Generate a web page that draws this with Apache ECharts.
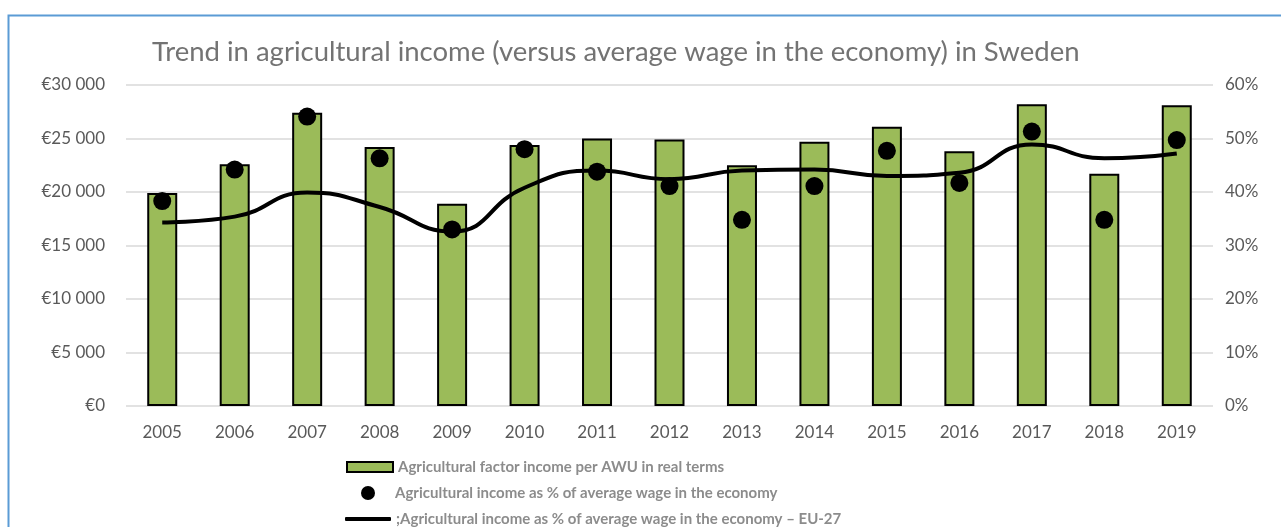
<!DOCTYPE html>
<html>
<head>
<meta charset="utf-8">
<script src="https://cdn.jsdelivr.net/npm/echarts@6/dist/echarts.min.js"></script>
<style>html,body{margin:0;padding:0;background:#fff;}#c{width:1281px;height:527px;}</style>
</head>
<body>
<div id="c"></div>
<script>
const years = ['2005','2006','2007','2008','2009','2010','2011','2012','2013','2014','2015','2016','2017','2018','2019'];
const incomePerAWU = [19900, 22600, 27400, 24200, 18900, 24400, 25000, 24900, 22500, 24700, 26100, 23800, 28200, 21700, 28100];
const pctOfWage = [38.3, 44.2, 54.1, 46.3, 33.0, 48.0, 43.8, 41.1, 34.8, 41.1, 47.7, 41.7, 51.3, 34.8, 49.7];
const pctOfWageEU27 = [34.3, 35.4, 39.9, 37.2, 32.6, 40.8, 44.0, 42.4, 44.0, 44.2, 43.0, 43.6, 48.9, 46.3, 47.2];
const seriesNames = [
  'Agricultural factor income per AWU in real terms',
  'Agricultural income as % of average wage in the economy',
  ';Agricultural income as % of average wage in the economy \u2013 EU-27'
];
const titleText = 'Trend in agricultural income (versus average wage in the economy) in Sweden';

const chart = echarts.init(document.getElementById('c'));
const FONT = 'Lato';
const legendText = { fontFamily: FONT, fontSize: 15, fontWeight: 'bold', color: '#8c8c8c', lineHeight: 18 };
chart.setOption({
  animation: false,
  backgroundColor: '#fff',
  textStyle: { fontFamily: FONT },
  title: {
    text: titleText,
    left: 147, top: 33,
    textStyle: { fontFamily: FONT, fontSize: 27.5, fontWeight: 'normal', color: '#737373' }
  },
  graphic: [{
    type: 'rect', left: 6, top: 13, silent: true,
    shape: { width: 1400, height: 700 },
    style: { fill: 'none', stroke: '#5B9BD5', lineWidth: 2 }
  }],
  grid: { left: 126, right: 68, top: 85, bottom: 121 },
  legend: [{
    left: 346, top: 458, padding: 0, itemWidth: 46, itemHeight: 10,
    textStyle: legendText,
    data: [{ name: seriesNames[0], icon: 'rect', itemStyle: { color: '#9BBB59', borderColor: '#000', borderWidth: 2 } }]
  }, {
    left: 361, top: 484, padding: 0, itemWidth: 14, itemHeight: 14,
    textStyle: Object.assign({}, legendText, { padding: [0, 0, 0, 15] }),
    data: [{ name: seriesNames[1], icon: 'circle', itemStyle: { color: '#000', opacity: 1 } }]
  }, {
    left: 345, top: 510, padding: 0, itemWidth: 46, itemHeight: 4,
    textStyle: legendText,
    data: [{ name: seriesNames[2], icon: 'roundRect', itemStyle: { color: '#000' } }]
  }],
  xAxis: {
    type: 'category', data: years,
    axisLine: { show: false }, axisTick: { show: false },
    axisLabel: { fontFamily: FONT, fontSize: 17, color: '#595959', margin: 18 }
  },
  yAxis: [{
    type: 'value', min: 0, max: 30000, interval: 5000,
    axisLine: { show: false }, axisTick: { show: false },
    splitLine: { lineStyle: { color: '#d9d9d9', width: 1.5 } },
    axisLabel: {
      fontFamily: FONT, fontSize: 17, color: '#595959', margin: 21,
      formatter: v => '\u20ac' + (v >= 1000 ? Math.floor(v/1000) + ' ' + String(v%1000).padStart(3,'0') : v)
    }
  }, {
    type: 'value', min: 0, max: 60, interval: 10,
    axisLine: { show: false }, axisTick: { show: false }, splitLine: { show: false },
    axisLabel: { fontFamily: FONT, fontSize: 17, color: '#595959', margin: 12, formatter: '{value}%' }
  }],
  series: [{
    name: seriesNames[0], type: 'bar', data: incomePerAWU, barWidth: 30,
    itemStyle: { color: '#9BBB59', borderColor: '#000', borderWidth: 2 }, z: 2
  }, {
    name: seriesNames[2], type: 'line', yAxisIndex: 1, data: pctOfWageEU27,
    smooth: 0.5, symbol: 'none', lineStyle: { color: '#000', width: 4 }, itemStyle: { color: '#000' }, z: 3
  }, {
    name: seriesNames[1], type: 'scatter', yAxisIndex: 1, data: pctOfWage,
    symbol: 'circle', symbolSize: 18, itemStyle: { color: '#000', opacity: 1 }, z: 4
  }]
});
</script>
</body>
</html>
